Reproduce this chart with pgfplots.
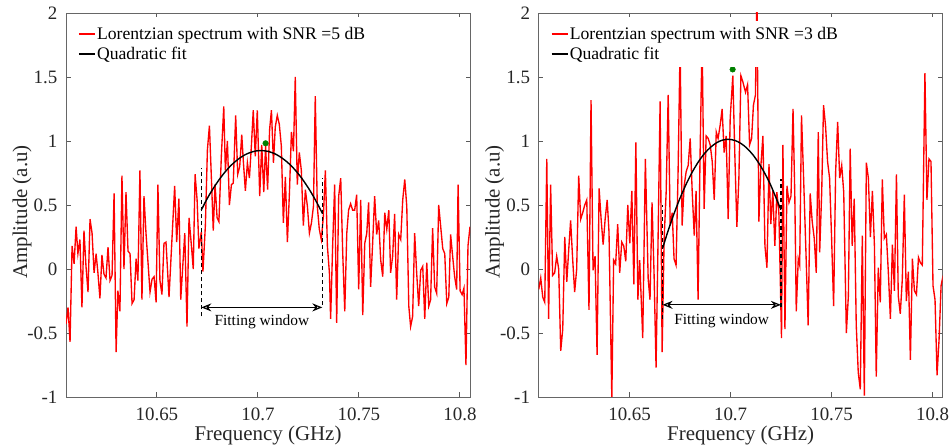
\documentclass[border=0pt]{standalone}
\usepackage{fontspec}
\setmainfont{Liberation Serif}
\usepackage{pgfplots}
\pgfplotsset{compat=1.18}
\usetikzlibrary{arrows.meta}
\definecolor{mygreen}{rgb}{0,0.5,0}
\definecolor{myred}{rgb}{1,0,0}
\pgfplotsset{
  myax/.style={
    scale only axis, width=404bp, height=384bp,
    xmin=10.605, xmax=10.805, ymin=-1, ymax=2,
    xtick={10.65,10.7,10.75,10.8}, xticklabels={10.65,10.7,10.75,10.8},
    ytick={-1,-0.5,0,0.5,1,1.5,2}, yticklabels={-1,-0.5,0,0.5,1,1.5,2},
    tick align=inside, major tick length=4.5bp,
    axis line style={draw=black!60, line width=0.9bp},
    every tick/.style={draw=black!65, line width=0.9bp},
    tick label style={font=\fontsize{19}{19}\selectfont, text=black!85},
    xticklabel style={anchor=north, inner sep=0pt, yshift=-11bp},
    yticklabel style={anchor=east, inner sep=0pt, xshift=-8.5bp},
    xlabel={Frequency (GHz)}, ylabel={Amplitude (a.u)},
    label style={font=\fontsize{21}{21}\selectfont, text=black!85},
    xlabel style={at={(axis description cs:0.5,-0.112)}, anchor=base, inner sep=0pt},
    ylabel style={at={(axis description cs:-0.0965,0.482)}, anchor=base, inner sep=0pt},
    legend style={at={(axis description cs:0.022,0.9805)}, anchor=north west, draw=none, fill=white,
      inner xsep=3bp, inner ysep=5bp, font=\fontsize{17.7}{17.7}\selectfont, row sep=3bp,
      nodes={inner sep=1.5bp, text=black}},
    legend cell align=left,
  }
}
\begin{document}
\begin{tikzpicture}
\path[use as bounding box] (0,0) rectangle (952bp,446bp);
% ---------------- left panel ----------------
\begin{axis}[myax, at={(66bp,49bp)}, anchor=south west]
\addplot[myred, line width=1.35bp,
  legend image code/.code={\draw[myred, line width=1.5bp] (0bp,0bp) -- (16bp,0bp);}] coordinates {
(10.6050,-0.43)(10.6060,-0.30)(10.6070,-0.57)(10.6080,0.18)(10.6090,0.04)(10.6100,0.33)(10.6109,0.12)(10.6119,0.23)(10.6129,-0.30)(10.6139,0.30)(10.6149,0.02)(10.6159,-0.18)(10.6169,0.39)(10.6179,0.28)(10.6189,-0.03)(10.6199,0.12)(10.6208,-0.03)(10.6218,-0.23)(10.6228,0.11)(10.6238,-0.04)(10.6248,-0.07)(10.6258,0.17)(10.6268,-0.09)(10.6278,-0.05)(10.6288,0.59)(10.6298,-0.65)(10.6307,-0.17)(10.6317,-0.33)(10.6327,0.73)(10.6337,0.00)(10.6347,0.60)(10.6357,0.14)(10.6367,0.12)(10.6377,-0.27)(10.6387,-0.24)(10.6397,0.08)(10.6406,-0.09)(10.6416,0.77)(10.6426,-0.24)(10.6436,0.57)(10.6446,0.28)(10.6456,0.05)(10.6466,-0.18)(10.6476,-0.08)(10.6486,-0.06)(10.6496,-0.26)(10.6505,0.66)(10.6515,-0.09)(10.6525,-0.20)(10.6535,0.20)(10.6545,0.21)
(10.6560,-0.22)(10.6588,0.65)(10.6598,0.21)(10.6609,0.55)(10.6618,-0.24)(10.6638,0.28)(10.6649,-0.45)(10.6659,0.40)(10.6671,0.18)(10.6680,0.00)(10.6689,0.74)(10.6699,0.54)(10.6708,0.16)(10.6720,0.29)(10.6728,-0.02)(10.6740,0.34)(10.6750,0.93)(10.6760,1.12)(10.6770,0.70)(10.6779,0.30)(10.6788,0.66)(10.6798,0.40)(10.6807,0.37)(10.6819,0.88)(10.6831,1.27)(10.6839,0.77)(10.6849,1.00)(10.6859,0.50)(10.6869,0.66)(10.6878,0.67)(10.6890,1.20)(10.6900,0.74)(10.6910,0.80)(10.6920,1.05)(10.6928,0.84)(10.6938,0.61)(10.6948,0.83)(10.6958,0.71)(10.6968,0.97)(10.6977,1.24)(10.6987,0.88)(10.6997,1.24)(10.7009,0.57)(10.7019,0.97)(10.7029,0.60)(10.7038,0.96)(10.7048,0.62)(10.7058,1.09)(10.7067,1.24)
(10.7077,0.83)(10.7086,1.11)(10.7096,1.20)(10.7106,1.13)(10.7116,0.96)(10.7126,0.36)(10.7136,0.72)(10.7146,0.21)(10.7156,0.59)(10.7166,1.07)(10.7176,0.92)(10.7185,1.50)(10.7195,0.66)(10.7205,0.91)(10.7215,0.77)(10.7225,0.34)(10.7235,0.62)(10.7245,0.49)(10.7255,0.28)(10.7265,0.36)(10.7275,0.49)(10.7284,1.35)(10.7294,0.49)(10.7304,0.31)(10.7314,0.23)(10.7324,0.41)(10.7334,0.77)(10.7344,0.18)(10.7354,-0.03)(10.7360,-0.39)(10.7370,0.18)(10.7380,0.66)(10.7390,-0.42)(10.7400,0.57)(10.7410,0.71)(10.7420,0.12)(10.7430,-0.33)(10.7440,0.28)(10.7449,0.46)(10.7459,0.51)(10.7469,0.46)(10.7479,0.46)(10.7489,0.58)(10.7499,-0.16)(10.7509,0.54)(10.7519,-0.36)(10.7529,0.20)(10.7539,0.28)(10.7548,0.52)(10.7558,-0.14)(10.7568,0.20)(10.7578,0.57)
(10.7588,0.27)(10.7598,0.38)(10.7608,0.07)(10.7618,-0.06)(10.7628,0.44)(10.7638,0.31)(10.7648,0.46)(10.7657,-0.03)(10.7667,0.10)(10.7677,0.43)(10.7687,-0.24)(10.7697,0.27)(10.7707,0.23)(10.7717,0.54)(10.7727,0.70)(10.7737,0.49)(10.7747,-0.29)(10.7756,-0.45)(10.7766,-0.37)(10.7776,0.28)(10.7786,-0.03)(10.7796,-0.29)(10.7806,-0.01)(10.7816,0.02)(10.7826,-0.39)(10.7836,0.05)(10.7846,-0.29)(10.7855,-0.24)(10.7865,0.32)(10.7875,-0.14)(10.7885,-0.19)(10.7895,0.50)(10.7905,0.33)(10.7915,0.16)(10.7925,0.12)(10.7935,-0.27)(10.7945,-0.22)(10.7954,0.27)(10.7964,0.10)(10.7974,-0.06)(10.7984,-0.16)(10.7991,0.66)(10.8001,-0.17)(10.8011,-0.20)(10.8020,-0.15)(10.8030,-0.75)(10.8040,0.18)(10.8050,0.33)
};
\addlegendentry{Lorentzian spectrum with SNR =5 dB}
\addplot[black, line width=1.4bp, smooth,
  legend image code/.code={\draw[black, line width=1.5bp] (0bp,0bp) -- (16bp,0bp);}] coordinates {
(10.672,0.461)(10.675,0.553)(10.678,0.632)(10.681,0.702)(10.684,0.763)(10.687,0.814)(10.690,0.855)(10.693,0.887)(10.696,0.909)(10.699,0.922)(10.702,0.925)(10.705,0.919)(10.708,0.903)(10.711,0.877)(10.714,0.842)(10.717,0.798)(10.720,0.744)(10.723,0.680)(10.726,0.607)(10.729,0.524)(10.732,0.432)
};
\addlegendentry{Quadratic fit}
\addplot[black, line width=1.3bp, dash pattern=on 4bp off 3bp, forget plot] coordinates {(10.672,-0.37)(10.672,0.79)};
\addplot[black, line width=1.3bp, dash pattern=on 4bp off 3bp, forget plot] coordinates {(10.7319,-0.28)(10.7319,0.71)};
\addplot[only marks, mark=*, mark size=2.8bp, color=mygreen, forget plot] coordinates {(10.7038,0.982)};
\draw[{Stealth[open,length=10bp,width=8bp]}-{Stealth[open,length=10bp,width=8bp]}, line width=1.2bp] (axis cs:10.672,-0.30) -- (axis cs:10.7319,-0.30);
\node[anchor=base, font=\fontsize{15.5}{15.5}\selectfont] at (axis cs:10.702,-0.445) {Fitting window};
\end{axis}
% ---------------- right panel ----------------
\begin{axis}[myax, at={(538.7bp,49bp)}, anchor=south west]
\addplot[myred, line width=1.35bp,
  legend image code/.code={\draw[myred, line width=1.5bp] (0bp,0bp) -- (16bp,0bp);}] coordinates {
(10.6050,-0.16)(10.6060,-0.07)(10.6070,-0.22)(10.6080,-0.26)(10.6090,0.86)(10.6099,-0.39)(10.6109,0.66)(10.6119,-0.05)(10.6129,-0.03)(10.6139,0.10)(10.6149,0.00)(10.6159,-0.64)(10.6169,-0.47)(10.6179,0.25)(10.6189,-0.10)(10.6199,0.16)(10.6208,0.38)(10.6218,0.08)(10.6228,-0.18)(10.6238,0.00)(10.6248,0.73)(10.6258,0.39)(10.6268,0.44)(10.6278,0.50)(10.6288,0.54)(10.6299,-0.32)(10.6309,1.32)(10.6319,-0.01)(10.6329,0.10)(10.6339,-0.67)(10.6349,0.63)(10.6359,0.39)(10.6369,0.19)(10.6379,0.39)(10.6389,0.54)(10.6398,0.29)(10.6412,-1.01)(10.6421,0.07)(10.6431,0.04)(10.6441,0.35)(10.6451,-0.03)(10.6461,0.21)(10.6471,0.18)(10.6481,0.06)(10.6491,0.50)(10.6501,0.20)(10.6511,0.61)(10.6521,-0.12)(10.6531,0.99)(10.6541,-0.24)(10.6550,0.07)
(10.6565,-0.54)(10.6578,0.86)(10.6592,-0.08)(10.6601,-0.24)(10.6611,0.52)(10.6621,-0.03)(10.6631,-0.77)(10.6641,0.24)(10.6651,1.31)(10.6661,-0.65)(10.6671,0.24)(10.6681,0.60)(10.6691,1.36)(10.6701,0.34)(10.6711,0.44)(10.6720,0.08)(10.6730,0.03)(10.6740,0.76)(10.6750,1.75)(10.6760,0.34)(10.6770,0.65)(10.6780,0.76)(10.6790,0.81)(10.6800,1.02)(10.6810,0.60)(10.6820,0.26)(10.6829,0.61)(10.6839,-0.24)(10.6849,0.91)(10.6859,1.80)(10.6869,0.47)(10.6879,1.04)(10.6889,1.02)(10.6899,0.97)(10.6909,0.84)(10.6919,0.54)(10.6929,1.07)(10.6938,1.02)(10.6948,1.12)(10.6958,1.25)(10.6968,0.91)(10.6978,1.04)(10.6988,0.39)(10.6998,1.18)(10.7011,1.51)(10.7021,0.89)(10.7031,0.33)(10.7041,0.71)(10.7051,1.51)(10.7061,1.46)
(10.7074,1.38)(10.7084,1.44)(10.7094,0.97)(10.7104,1.02)(10.7113,1.28)(10.7123,1.36)(10.7130,2.19)(10.7140,0.37)(10.7150,0.81)(10.7160,1.04)(10.7170,0.18)(10.7180,0.01)(10.7190,0.82)(10.7199,0.35)(10.7209,0.61)(10.7219,0.18)(10.7229,0.60)(10.7239,0.44)(10.7252,-0.54)(10.7259,0.97)(10.7269,-0.47)(10.7279,0.65)(10.7289,0.52)(10.7299,0.57)(10.7309,1.25)(10.7318,0.56)(10.7325,-0.33)(10.7335,0.08)(10.7342,0.03)(10.7351,1.20)(10.7361,0.73)(10.7374,0.08)(10.7384,-0.44)(10.7394,0.59)(10.7404,0.37)(10.7414,0.24)(10.7424,-0.03)(10.7434,1.07)(10.7441,0.13)(10.7451,0.60)(10.7460,1.28)(10.7470,1.12)(10.7480,0.84)(10.7490,0.71)(10.7500,0.24)(10.7510,-0.29)(10.7520,0.76)(10.7530,1.15)(10.7540,0.71)(10.7550,0.81)(10.7560,0.60)
(10.7573,-0.50)(10.7583,-0.21)(10.7592,0.94)(10.7602,0.18)(10.7612,0.55)(10.7622,-0.44)(10.7632,-0.81)(10.7642,-0.94)(10.7652,0.26)(10.7662,-0.99)(10.7672,0.83)(10.7682,0.71)(10.7692,0.25)(10.7702,0.61)(10.7712,0.18)(10.7721,-0.84)(10.7731,0.01)(10.7741,-0.26)(10.7751,0.70)(10.7761,0.24)(10.7771,0.27)(10.7781,-0.03)(10.7791,-0.39)(10.7801,0.19)(10.7811,-0.17)(10.7821,0.74)(10.7830,-0.21)(10.7840,-0.35)(10.7850,-0.08)(10.7860,0.58)(10.7870,-0.25)(10.7880,-0.02)(10.7890,-0.71)(10.7900,0.08)(10.7910,-0.17)(10.7920,-0.20)(10.7930,0.09)(10.7939,0.05)(10.7949,0.03)(10.7962,1.53)(10.7972,0.54)(10.7982,0.86)(10.7992,0.84)(10.8002,-0.13)(10.8012,-0.24)(10.8022,-0.83)(10.8032,-0.55)(10.8042,-0.13)(10.8052,-0.05)
};
\addlegendentry{Lorentzian spectrum with SNR =3 dB}
\addplot[black, line width=1.4bp, smooth,
  legend image code/.code={\draw[black, line width=1.5bp] (0bp,0bp) -- (16bp,0bp);}] coordinates {
(10.6663,0.160)(10.669,0.296)(10.672,0.433)(10.675,0.555)(10.678,0.663)(10.681,0.757)(10.684,0.836)(10.687,0.901)(10.690,0.950)(10.693,0.986)(10.696,1.007)(10.699,1.013)(10.702,1.005)(10.705,0.982)(10.708,0.945)(10.711,0.893)(10.714,0.826)(10.717,0.745)(10.720,0.650)(10.7249,0.463)
};
\addlegendentry{Quadratic fit}
\addplot[black, line width=1.3bp, dash pattern=on 4bp off 3bp, forget plot] coordinates {(10.6663,-0.39)(10.6663,0.50)};
\addplot[black, line width=1.3bp, dash pattern=on 4bp off 3bp, forget plot] coordinates {(10.7249,-0.30)(10.7249,0.70)};
\addplot[only marks, mark=*, mark size=2.8bp, color=mygreen, forget plot] coordinates {(10.7010,1.559)};
\draw[{Stealth[open,length=10bp,width=8bp]}-{Stealth[open,length=10bp,width=8bp]}, line width=1.2bp] (axis cs:10.6663,-0.28) -- (axis cs:10.7249,-0.28);
\node[anchor=base, font=\fontsize{15.5}{15.5}\selectfont] at (axis cs:10.6956,-0.43) {Fitting window};
\end{axis}
\end{tikzpicture}
\end{document}
